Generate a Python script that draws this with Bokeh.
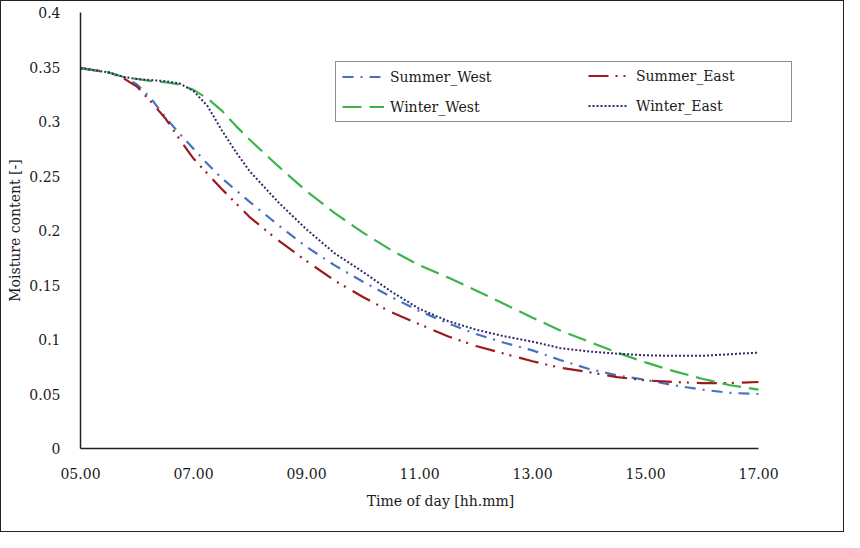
from bokeh.plotting import figure
from bokeh.models import FixedTicker, Legend, LegendItem
from bokeh.embed import file_html
from bokeh.resources import INLINE

# ---- data ----
time_h = [5.0, 5.5, 5.75, 6.0, 6.25, 6.5, 6.75, 7.0, 7.25, 7.5, 7.75, 8.0, 8.5, 9.0,
          9.5, 10.0, 10.5, 11.0, 11.5, 12.0, 12.5, 13.0, 13.5, 14.0, 14.5, 15.0,
          15.5, 16.0, 16.5, 17.0]

summer_west = [0.349, 0.345, 0.341, 0.334, 0.321, 0.304, 0.289, 0.275, 0.261, 0.248,
               0.237, 0.226, 0.205, 0.185, 0.168, 0.153, 0.139, 0.126, 0.115, 0.105,
               0.097, 0.090, 0.081, 0.073, 0.067, 0.063, 0.058, 0.054, 0.051, 0.050]

summer_east = [0.349, 0.345, 0.340, 0.332, 0.318, 0.303, 0.284, 0.266, 0.252, 0.238,
               0.225, 0.212, 0.191, 0.172, 0.154, 0.139, 0.125, 0.114, 0.103, 0.094,
               0.087, 0.080, 0.074, 0.070, 0.0655, 0.0625, 0.061, 0.060, 0.060, 0.061]

winter_west = [0.349, 0.345, 0.341, 0.339, 0.337, 0.336, 0.334, 0.329, 0.321, 0.310,
               0.296, 0.283, 0.259, 0.236, 0.216, 0.198, 0.182, 0.168, 0.157, 0.145,
               0.1325, 0.120, 0.108, 0.098, 0.088, 0.079, 0.071, 0.064, 0.058, 0.054]

winter_east = [0.349, 0.345, 0.341, 0.339, 0.338, 0.337, 0.335, 0.328, 0.314, 0.292,
               0.272, 0.254, 0.226, 0.201, 0.179, 0.162, 0.144, 0.128, 0.117, 0.109,
               0.103, 0.098, 0.092, 0.089, 0.087, 0.0855, 0.085, 0.085, 0.0865, 0.088]

x_ticks = [5, 7, 9, 11, 13, 15, 17]
x_tick_labels = ["05.00", "07.00", "09.00", "11.00", "13.00", "15.00", "17.00"]
y_ticks = [0, 0.05, 0.1, 0.15, 0.2, 0.25, 0.3, 0.35, 0.4]
y_tick_labels = ["0", "0.05", "0.1", "0.15", "0.2", "0.25", "0.3", "0.35", "0.4"]

FONT = "DejaVu Serif"
TXT = "#1a1a1a"
FS = "14px"

p = figure(frame_width=720, frame_height=436,
           min_border_left=79, min_border_right=43, min_border_top=11, min_border_bottom=83,
           x_range=(5, 17.743), y_range=(0, 0.4),
           output_backend="svg", toolbar_location=None)
p.styles = {"border": "1px solid #222222"}

p.xgrid.grid_line_color = None
p.ygrid.grid_line_color = None
p.outline_line_color = None

for ax in (p.xaxis[0], p.yaxis[0]):
    ax.major_tick_line_color = None
    ax.minor_tick_line_color = None
    ax.axis_line_color = "#222222"
    ax.axis_line_width = 1.5
    ax.major_label_text_font = FONT
    ax.major_label_text_font_size = FS
    ax.major_label_text_color = TXT
    ax.axis_label_text_font = FONT
    ax.axis_label_text_font_size = FS
    ax.axis_label_text_font_style = "normal"
    ax.axis_label_text_color = TXT

p.xaxis.bounds = (5, 17)
p.xaxis.ticker = FixedTicker(ticks=x_ticks)
p.xaxis.major_label_overrides = dict(zip(x_ticks, x_tick_labels))
p.yaxis.ticker = FixedTicker(ticks=y_ticks)
p.yaxis.major_label_overrides = dict(zip(y_ticks, y_tick_labels))
p.xaxis.major_label_standoff = 13
p.yaxis.major_label_standoff = 14
p.xaxis.axis_label = "Time of day [hh.mm]"
p.yaxis.axis_label = "Moisture content [-]"
p.xaxis.axis_label_standoff = 11
p.yaxis.axis_label_standoff = 3

LW = 2.2
r_sw = p.line(time_h, summer_west, line_color="#4472c4", line_width=LW, line_dash="11 7 2 7")
r_se = p.line(time_h, summer_east, line_color="#9b1b1e", line_width=LW, line_dash="20 7 2 6 2 8")
r_ww = p.line(time_h, winter_west, line_color="#3cb44b", line_width=LW, line_dash="19 8")
r_we = p.line(time_h, winter_east, line_color="#34296e", line_width=2, line_dash="2 2")


def style_legend(lg):
    lg.label_text_font = FONT
    lg.label_text_font_size = FS
    lg.label_text_color = TXT
    lg.padding = 6
    lg.spacing = 13
    lg.margin = 0
    lg.glyph_height = 17
    lg.label_height = 17


legend_a = Legend(items=[
    LegendItem(label="Summer_West", renderers=[r_sw]),
    LegendItem(label="Winter_West", renderers=[r_ww]),
], location=(255, 326))
style_legend(legend_a)
legend_a.border_line_color = "#222222"
legend_a.border_line_width = 1.5
legend_a.background_fill_color = "white"
legend_a.background_fill_alpha = 1
legend_a.glyph_width = 42
legend_a.label_standoff = 6
legend_a.label_width = 395

legend_b = Legend(items=[
    LegendItem(label="Summer_East", renderers=[r_se]),
    LegendItem(label="Winter_East", renderers=[r_we]),
], location=(508, 334))
style_legend(legend_b)
legend_b.border_line_color = None
legend_b.background_fill_alpha = 0
legend_b.glyph_width = 40
legend_b.label_standoff = 8

p.add_layout(legend_a, "center")
p.add_layout(legend_b, "center")

open("out.html", "w").write(file_html(p, INLINE))
